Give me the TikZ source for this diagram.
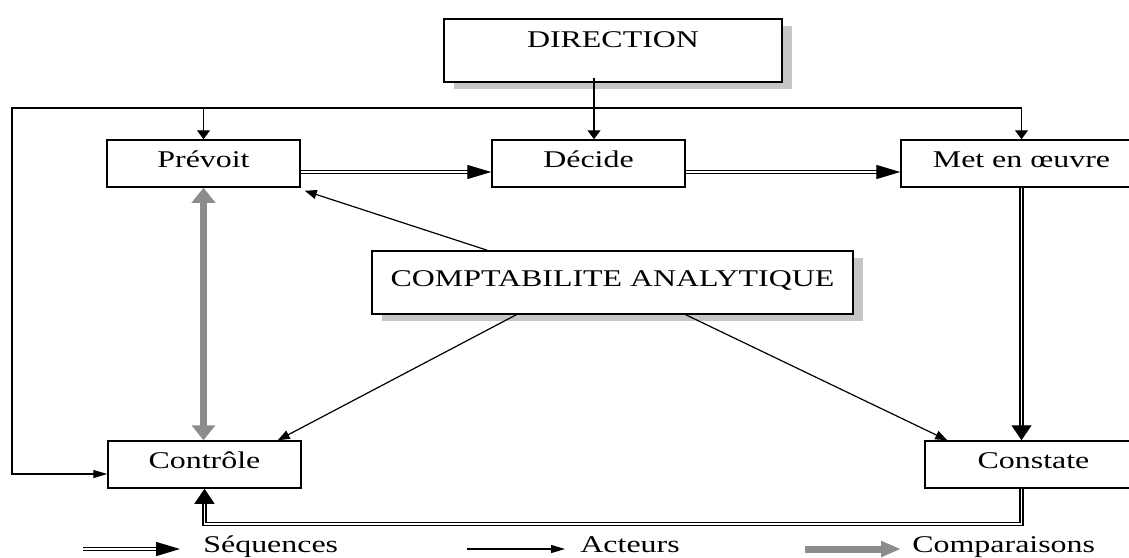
\documentclass[tikz,border=0pt]{standalone}
\usepackage{fontspec}
\setmainfont{Liberation Serif}[FakeStretch=1.33]
\usepackage{tikz}
\usetikzlibrary{arrows.meta, shadows}
\definecolor{compgray}{RGB}{140,140,140}
\tikzset{
  box/.style = {shape=rectangle, draw, fill=white, line width=0.75pt,
                inner sep=0pt, minimum height=23.5pt,
                text height=8pt, text depth=4pt,
                font=\fontsize{12}{14}\selectfont},
  bigbox/.style = {box, minimum height=31.5pt,
                   drop shadow={shadow xshift=5pt, shadow yshift=-3.5pt,
                                fill=gray!45, opacity=1}},
  seq/.style = {draw=black, double=white, line width=0.65pt, double distance=0.9pt,
                -{Triangle[length=12pt,width=7pt]}},
  seqv/.style = {seq, -{Triangle[length=7.5pt,width=10pt]}},
  act/.style = {line width=0.6pt, -{Triangle[length=6pt,width=4.5pt]}},
  acth/.style = {act, -{Triangle[length=7pt,width=4pt]}},
  actv/.style = {act, -{Triangle[length=4.5pt,width=6.5pt]}},
  comp/.style = {draw=compgray, line width=3.5pt,
                 -{Triangle[length=10pt,width=7.5pt]}},
  compv/.style = {comp, {Triangle[length=7.5pt,width=11.5pt]}-{Triangle[length=7.5pt,width=11.5pt]}},
  legend/.style = {anchor=base west, inner sep=0pt, font=\fontsize{12}{14}\selectfont}
}
\begin{document}
\begin{tikzpicture}[x=0.5pt, y=-0.5pt]
            \useasboundingbox (0,0) rectangle (1129,557);
            \clip (0,0) rectangle (1129,557);

            \node (dir) [bigbox, minimum width=169pt, text height=9pt, text depth=12pt] at (613,50.5) {DIRECTION};
            \node (prevoit) [box, minimum width=96.5pt] at (203.5,163.5) {Prévoit};
            \node (decide) [box, minimum width=96.5pt] at (588.5,163.5) {Décide};
            \node (meo) [box, minimum width=120.5pt] at (1021.5,163.5) {Met en œuvre};
            \node (compta) [bigbox, minimum width=240.5pt] at (612.5,282.5) {COMPTABILITE ANALYTIQUE};
            \node (controle) [box, minimum width=96.5pt] at (204.5,464.5) {Contrôle};
            \node (constate) [box, minimum width=108.5pt] at (1033.5,464.5) {Constate};

            \coordinate (topL) at (12,108);
            \coordinate (dirfoot) at (594,78);

            \draw [actv] (dirfoot) -- (dirfoot |- decide.north);
            \draw [acth] (meo.north |- topL) -- (topL) |- ([yshift=-4.75pt]controle.west);
            \draw [actv] (prevoit.north |- topL) -- (prevoit.north);
            \draw [actv] (meo.north |- topL) -- (meo.north);

            \draw [seq] ([yshift=-4.25pt]prevoit.east) -- ([yshift=-4.25pt]decide.west);
            \draw [seq] ([yshift=-4.25pt]decide.east) -- ([yshift=-4.25pt]meo.west);
            \draw [seqv] (meo.south) -- (meo.south |- constate.north);
            \draw [seqv] (meo.south |- constate.south) -- ++(0,35) -| (controle.south);

            \draw [compv] (prevoit.south) -- (prevoit.south |- controle.north);

            \draw [act] ([xshift=58pt]compta.north west) -- ([xshift=2pt,yshift=-1.5pt]prevoit.south east);
            \draw [act] ([xshift=72.5pt]compta.south west) -- ([xshift=-12pt]controle.north east);
            \draw [act] ([xshift=-84pt]compta.south east) -- ([xshift=11.5pt]constate.north west);

            \coordinate (seqa) at (83,549);
            \coordinate (seqb) at (180,549);
            \draw [seq] (seqa) -- (seqb);
            \node (seqlab) [legend] at (203,552) {Séquences};
            \coordinate (acta) at (467,549);
            \coordinate (actb) at (565,549);
            \draw [acth] (acta) -- (actb);
            \node (actlab) [legend] at (580,552) {Acteurs};
            \coordinate (compa) at (805,549);
            \coordinate (compb) at (901,549);
            \draw [comp] (compa) -- (compb);
            \node (complab) [legend] at (912,552) {Comparaisons};
\end{tikzpicture}
\end{document}
